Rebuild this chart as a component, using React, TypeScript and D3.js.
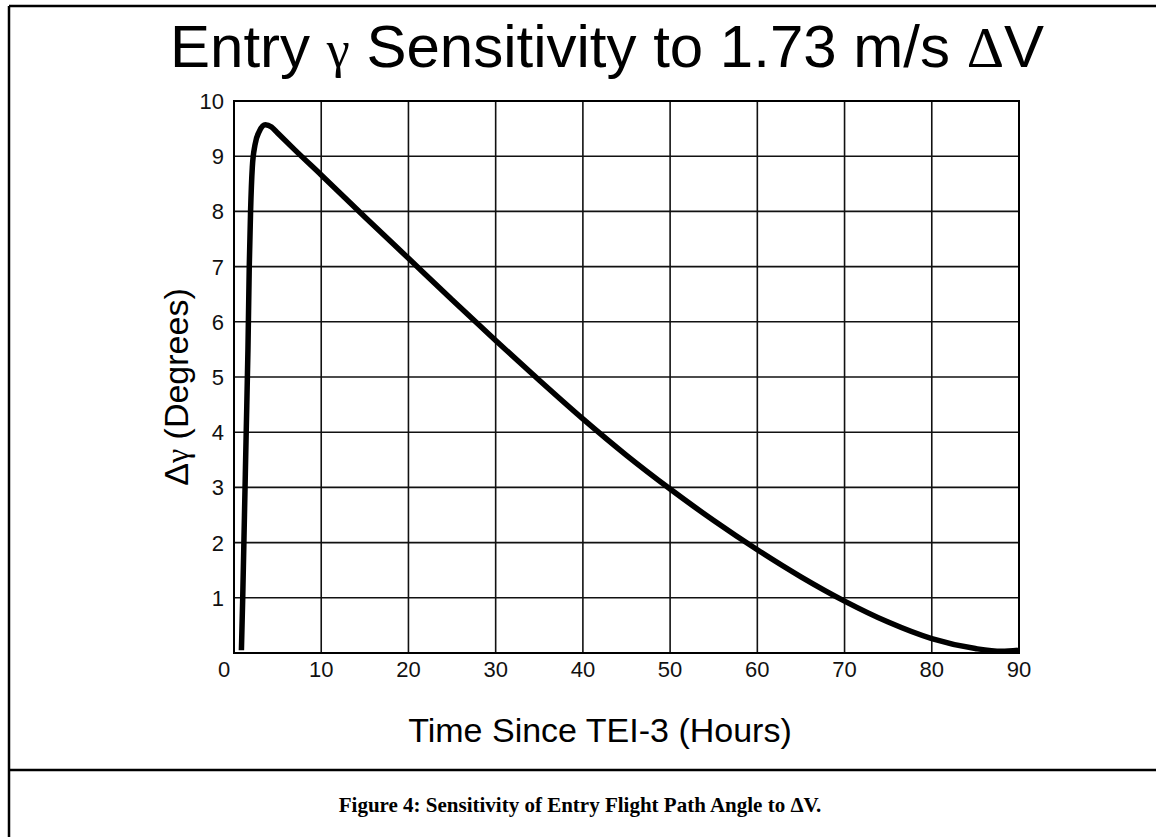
import React from "react";
import * as d3 from "d3";

const xTicks = [0, 10, 20, 30, 40, 50, 60, 70, 80, 90];
const yTicks = [1, 2, 3, 4, 5, 6, 7, 8, 9, 10];
const hours = [0.85, 1.0, 1.2, 1.4, 1.6, 1.75, 1.9, 2.1, 2.4, 2.9, 3.6, 4.3, 5, 7, 10, 15, 20, 25, 30, 35, 40, 45, 50, 55, 60, 65, 70, 75, 80, 85, 88, 90];
const dGamma = [0.05, 1, 2.5, 4, 5.5, 7, 8, 8.8, 9.2, 9.45, 9.57, 9.53, 9.42, 9.11, 8.66, 7.9, 7.15, 6.4, 5.66, 4.94, 4.24, 3.58, 2.97, 2.4, 1.87, 1.38, 0.94, 0.56, 0.26, 0.08, 0.03, 0.05];

const W = 1156;
const H = 837;
const L = 234, R = 1019, T = 101, B = 653;

export default function App() {
  const x = d3.scaleLinear().domain([0, 90]).range([L, R]);
  const y = d3.scaleLinear().domain([0, 10]).range([B, T]);
  const pts: [number, number][] = hours.map((h, i) => [h, dGamma[i]]);
  const line = d3
    .line<[number, number]>()
    .x((d) => x(d[0]))
    .y((d) => y(d[1]))
    .curve(d3.curveMonotoneX);
  const sans = "'Liberation Sans', Arial, Helvetica, sans-serif";
  const serif = "'Liberation Serif', 'Times New Roman', serif";
  return (
    <svg
      width={W}
      height={H}
      style={{ position: "absolute", left: 0, top: 0, background: "#fff" }}
    >
      <rect x={0} y={0} width={W} height={H} fill="#fff" />
      {/* frame */}
      <line x1={9} y1={6} x2={W} y2={6} stroke="#000" strokeWidth={2.5} />
      <line x1={9} y1={6} x2={9} y2={H} stroke="#000" strokeWidth={2.5} />
      <line x1={9} y1={770} x2={W} y2={770} stroke="#000" strokeWidth={2.5} />

      {/* title */}
      <text x={607} y={67} textAnchor="middle" fontFamily={sans} fontSize={60} fill="#000">
        Entry <tspan fontFamily={serif} fontSize={52}>γ</tspan> Sensitivity to 1.73 m/s <tspan fontFamily={serif} fontSize={58}>Δ</tspan>V
      </text>

      {/* grid */}
      {xTicks.slice(1, -1).map((t) => (
        <line key={"gx" + t} x1={x(t)} x2={x(t)} y1={T} y2={B} stroke="#111" strokeWidth={1.6} />
      ))}
      {yTicks.slice(0, -1).map((t) => (
        <line key={"gy" + t} x1={L} x2={R} y1={y(t)} y2={y(t)} stroke="#111" strokeWidth={1.6} />
      ))}
      <rect x={L} y={T} width={R - L} height={B - T} fill="none" stroke="#000" strokeWidth={2} />

      {/* curve */}
      <path d={line(pts) || ""} fill="none" stroke="#000" strokeWidth={5.5} strokeLinecap="butt" strokeLinejoin="round" />

      {/* x tick labels */}
      {xTicks.map((t) => (
        <text
          key={"xl" + t}
          x={t === 0 ? x(t) - 10 : x(t)}
          y={677}
          textAnchor="middle"
          fontFamily={sans}
          fontSize={22}
          fill="#111"
        >
          {t}
        </text>
      ))}
      {/* y tick labels */}
      {yTicks.map((t) => (
        <text
          key={"yl" + t}
          x={224}
          y={y(t) + 8}
          textAnchor="end"
          fontFamily={sans}
          fontSize={22}
          fill="#111"
        >
          {t}
        </text>
      ))}

      {/* axis titles */}
      <text x={600} y={742} textAnchor="middle" fontFamily={sans} fontSize={34} fill="#000">
        Time Since TEI-3 (Hours)
      </text>
      <text
        transform={`translate(188, ${(T + B) / 2 + 10}) rotate(-90)`}
        textAnchor="middle"
        fontFamily={sans}
        fontSize={34}
        fill="#000"
      >
        Δ<tspan fontFamily={serif} fontSize={32}>γ</tspan> (Degrees)
      </text>

      {/* caption */}
      <text x={580} y={812} textAnchor="middle" fontFamily={serif} fontWeight="bold" fontSize={21} fill="#000">
        Figure 4: Sensitivity of Entry Flight Path Angle to ΔV.
      </text>
    </svg>
  );
}
